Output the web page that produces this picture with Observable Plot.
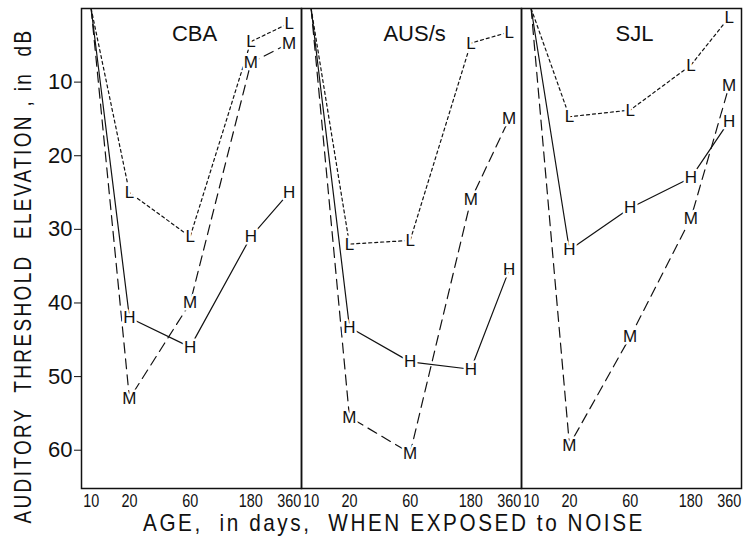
<!DOCTYPE html>
<html>
<head>
<meta charset="utf-8">
<script src="https://cdn.jsdelivr.net/npm/d3@7"></script>
<script src="https://cdn.jsdelivr.net/npm/@observablehq/plot@0.6"></script>
<style>
  html, body { margin: 0; padding: 0; background: #fff; }
  #wrap { position: relative; width: 743px; height: 548px; overflow: hidden; }
  #chart { position: absolute; left: 0; top: 0; }
  .lab { position: absolute; font-family: "Liberation Sans", "DejaVu Sans", sans-serif; color: #111; white-space: pre; line-height: 1; }
  #xlab { left: 394px; top: 523px; font-size: 24px; letter-spacing: 3px; }
  #ylab { left: 23px; top: 276px; font-size: 24px; letter-spacing: 3px; }
</style>
</head>
<body>
<div id="wrap">
  <div id="chart"></div>
  <div id="xlab" class="lab">AGE,  in days,  WHEN EXPOSED to NOISE</div>
  <div id="ylab" class="lab">AUDITORY  THRESHOLD  ELEVATION , in  dB</div>
</div>
<script>
// ---- data ----
const strains = ["CBA", "AUS/s", "SJL"];
const ages = [10, 20, 60, 180, 360];
const yTicks = [10, 20, 30, 40, 50, 60];
const seriesNames = ["L", "M", "H"];

// threshold elevation (dB) at ages 10, 20, 60, 180, 360 days
const cbaL = [0, 25, 31, 4.5, 2];
const cbaM = [0, 53, 40, 7.4, 4.7];
const cbaH = [0, 42, 46, 31, 25];

const ausL = [0, 32, 31.5, 4.7, 3.2];
const ausM = [0, 55.5, 60.4, 26, 15];
const ausH = [0, 43.3, 48, 49, 35.5];

const sjlL = [0, 14.7, 13.8, 7.7, 1.2];
const sjlM = [0, 59.3, 44.6, 28.5, 10.5];
const sjlH = [0, 32.8, 27.1, 23, 15.3];

const table = {
  "CBA":   {L: cbaL, M: cbaM, H: cbaH},
  "AUS/s": {L: ausL, M: ausM, H: ausH},
  "SJL":   {L: sjlL, M: sjlM, H: sjlH}
};

const rows = [];
for (const s of strains) {
  for (const k of seriesNames) {
    table[s][k].forEach((v, i) => rows.push({strain: s, series: k, age: ages[i], value: v, first: i === 0}));
  }
}
const labeled = rows.filter(d => !d.first);
const dash = {L: "3,3", M: "10,6", H: null};

const font = '"Liberation Sans", "DejaVu Sans", sans-serif';

const lineMarks = seriesNames.map(k =>
  Plot.line(rows.filter(d => d.series === k), {
    x: "age", y: "value", fx: "strain", z: "strain",
    stroke: "#111", strokeWidth: 1.2,
    strokeDasharray: dash[k] || undefined
  })
);

const chart = Plot.plot({
  width: 743,
  height: 548,
  marginLeft: 80,
  marginRight: 1,
  marginTop: 8,
  marginBottom: 60,
  style: {fontFamily: font, background: "#fff", color: "#111"},
  fx: {domain: strains, padding: 0, axis: null},
  x: {type: "log", domain: [8.4, 450]},
  y: {domain: [0, 65.2], reverse: true},
  marks: [
    ...lineMarks,
    Plot.text(labeled, {
      x: "age", y: "value", fx: "strain", text: "series",
      fill: "#111", stroke: "white", strokeWidth: 5, fontSize: 17
    }),
    Plot.text(strains, {fx: d => d, x: 65, y: 3.4, text: d => d, fontSize: 22, fill: "#111"}),
    Plot.frame({stroke: "#111", strokeWidth: 1.5}),
    Plot.axisY({ticks: yTicks, anchor: "left", tickSize: 7, tickPadding: 2, fontSize: 22, label: null, tickFormat: d => d}),
    Plot.axisX({ticks: ages, anchor: "bottom", tickSize: 0, tickPadding: 6, fontSize: 18, label: null, tickFormat: d => String(d)})
  ]
});
document.getElementById("chart").appendChild(chart);

// condense tick labels horizontally (the original uses a narrow typeface)
d3.select(chart).selectAll('g[aria-label="x-axis tick label"] text').each(function () {
  const t = this.getAttribute("transform") || "";
  this.setAttribute("transform", t + " scale(0.8,1)");
});

// fit axis titles to their lengths in the original, condensing the glyphs
function fit(id, target, rotate) {
  const el = document.getElementById(id);
  const w = el.getBoundingClientRect().width;
  const s = Math.min(1, target / w);
  el.style.transform = "translate(-50%, -50%)" + (rotate ? " rotate(-90deg)" : "") + ` scale(${s}, 1)`;
}
fit("xlab", 502, false);
fit("ylab", 495, true);
</script>
</body>
</html>
